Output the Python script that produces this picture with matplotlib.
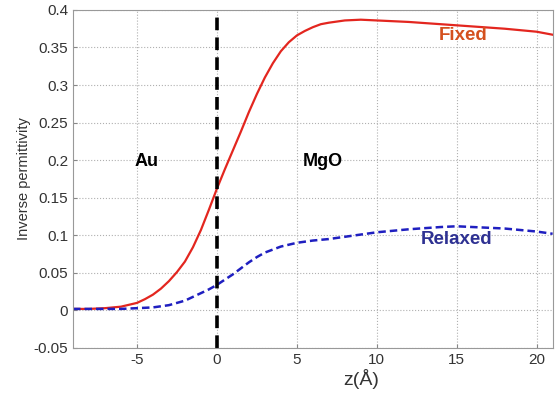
import numpy as np
import matplotlib
matplotlib.use('Agg')
import matplotlib.pyplot as plt

plt.rcParams['font.family'] = ['Liberation Sans', 'DejaVu Sans']
plt.rcParams['axes.unicode_minus'] = False

# data
z_fixed = [-9, -8, -7, -6, -5, -4.5, -4, -3.5, -3, -2.5, -2, -1.5, -1, -0.5, 0,
           0.5, 1, 1.5, 2, 2.5, 3, 3.5, 4, 4.5, 5, 5.5, 6, 6.5, 7, 8, 9, 10,
           12, 14, 16, 18, 20, 21]
eps_fixed = [0.002, 0.002, 0.003, 0.005, 0.010, 0.015, 0.021, 0.029, 0.039, 0.051,
             0.065, 0.084, 0.107, 0.134, 0.162, 0.188, 0.213, 0.238, 0.264, 0.288,
             0.310, 0.329, 0.345, 0.357, 0.366, 0.372, 0.377, 0.381, 0.383, 0.386,
             0.387, 0.386, 0.384, 0.381, 0.378, 0.375, 0.371, 0.367]

z_relax = [-9, -8, -7, -6, -5, -4, -3, -2, -1.5, -1, -0.5, 0, 0.5, 1, 1.5, 2, 2.5,
           3, 3.5, 4, 5, 6, 7, 8, 9, 10, 12, 14, 15, 16, 18, 20, 21]
eps_relax = [0.002, 0.002, 0.002, 0.002, 0.003, 0.004, 0.007, 0.013, 0.018, 0.023,
             0.028, 0.034, 0.041, 0.048, 0.056, 0.064, 0.071, 0.077, 0.081, 0.085,
             0.090, 0.093, 0.095, 0.098, 0.101, 0.104, 0.108, 0.111, 0.112, 0.111,
             0.109, 0.105, 0.102]

xticks = [-5, 0, 5, 10, 15, 20]
yticks = [-0.05, 0, 0.05, 0.1, 0.15, 0.2, 0.25, 0.3, 0.35, 0.4]
yticklabels = ['-0.05', '0', '0.05', '0.1', '0.15', '0.2', '0.25', '0.3', '0.35', '0.4']

fig = plt.figure(figsize=(5.59, 3.94), dpi=100)
ax = fig.add_axes([0.1306, 0.1168, 0.858, 0.858])

ax.plot(z_fixed, eps_fixed, color='#e3261f', lw=1.6)
ax.plot(z_relax, eps_relax, color='#1f1fc0', lw=1.8, ls=(0, (3, 1.6)))
ax.axvline(0, color='black', lw=2.6, ls=(0, (3.5, 2)))

ax.set_xlim(-9, 21)
ax.set_ylim(-0.05, 0.4)
ax.set_xticks(xticks)
ax.set_yticks(yticks)
ax.set_yticklabels(yticklabels)
ax.grid(True, color='#b0b0b0', ls=':', lw=0.8)
ax.tick_params(direction='in', length=3, labelsize=11, labelcolor='#333333',
               color='#888888')
for s in ax.spines.values():
    s.set_color('#999999')

ax.text(-4.4, 0.198, 'Au', fontsize=13, fontweight='bold', ha='center', va='center')
ax.text(6.6, 0.198, 'MgO', fontsize=13, fontweight='bold', ha='center', va='center')
ax.text(15.4, 0.366, 'Fixed', fontsize=13.5, fontweight='bold', color='#d4501e',
        ha='center', va='center')
ax.text(15.0, 0.095, 'Relaxed', fontsize=13.5, fontweight='bold', color='#2e3192',
        ha='center', va='center')

ax.set_ylabel('Inverse permittivity', fontsize=10.5, color='#333333', labelpad=2)
fig.text(0.647, 0.038, 'z(Å)', fontsize=14, color='#333333', ha='center', va='center')

fig.savefig('out.png', dpi=100)
